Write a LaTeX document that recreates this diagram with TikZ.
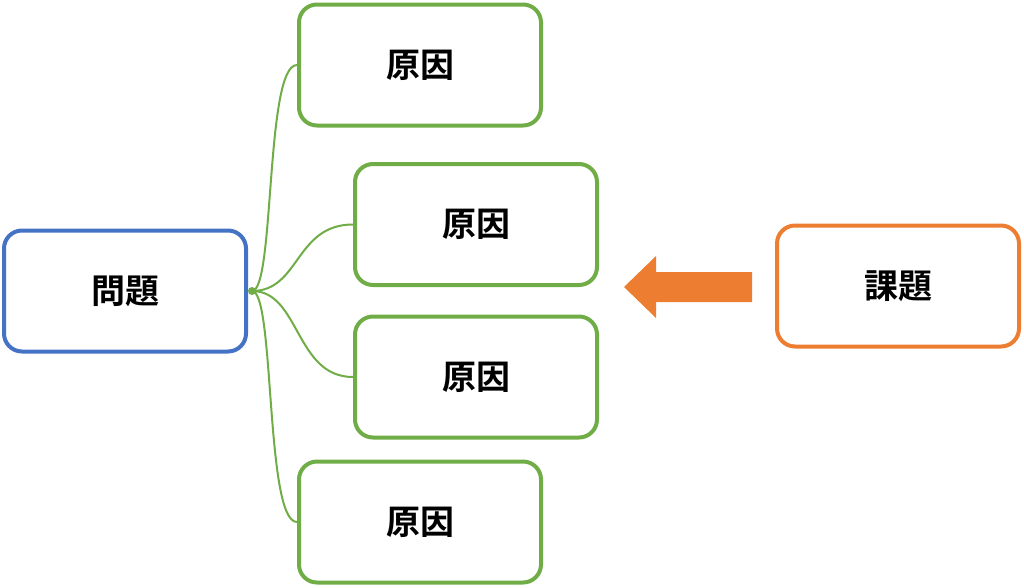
\documentclass[tikz,border=0pt]{standalone}
\usepackage{fontspec}
\newfontfamily\cjk{Noto Sans CJK JP}[BoldFont={Noto Sans CJK JP Bold}]
\definecolor{gr}{HTML}{70AD47}
\definecolor{bl}{HTML}{4472C4}
\definecolor{og}{HTML}{ED7D31}
\begin{document}
\begin{tikzpicture}[x=1pt,y=-1pt,
  box/.style={draw=#1,line width=4pt,rounded corners=18pt,fill=white,minimum width=242pt,minimum height=121pt,font=\cjk\bfseries\fontsize{34}{40}\selectfont,inner sep=0pt},
  con/.style={draw=gr,line width=2pt}]
\useasboundingbox (0,0) rectangle (1024,587);
\node[box=bl] (p) at (125,291) {問題};
\node[box=gr] (c1) at (420,65) {原因};
\node[box=gr] (c2) at (476,224.5) {原因};
\node[box=gr] (c3) at (476,377) {原因};
\node[box=gr] (c4) at (420,522) {原因};
\node[box=og] (k) at (898,286) {課題};
\coordinate (h) at (252,291);
\fill[gr] (h) circle (4);
\draw[con] (h) .. controls (275,291) and (265,65) .. (c1.west);
\draw[con] (h) .. controls (300,291) and (295,224.5) .. (c2.west);
\draw[con] (h) .. controls (300,291) and (295,377) .. (c3.west);
\draw[con] (h) .. controls (275,291) and (265,522) .. (c4.west);
\coordinate (a1) at (752,287);
\fill[og] (752,272) -- (656,272) -- (656,256) -- (624,287) -- (656,318) -- (656,302) -- (752,302) -- cycle;
\end{tikzpicture}
\end{document}
